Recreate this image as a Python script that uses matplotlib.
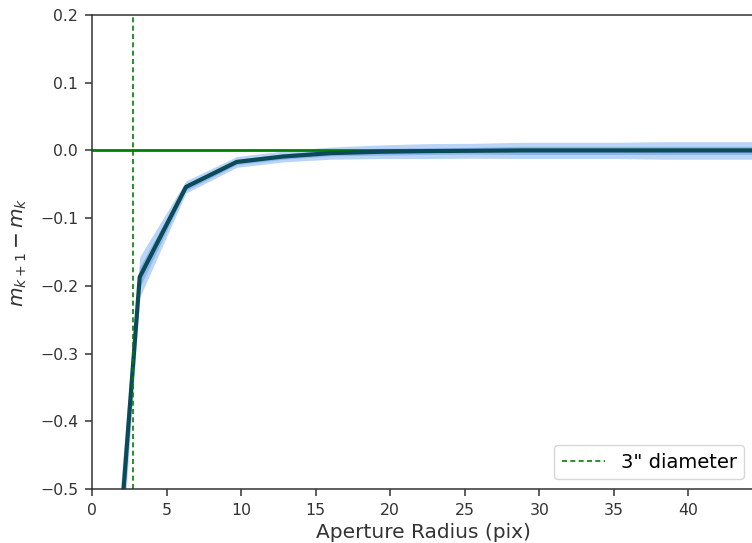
import matplotlib
matplotlib.use("Agg")
import matplotlib.pyplot as plt
import numpy as np

# data
radius = [1.6, 3.2, 6.3, 9.7, 12.8, 16.0, 19.2, 22.4, 25.6, 28.8, 32.0, 35.2, 38.4, 41.6, 44.8]
delta_mag = [-0.65, -0.187, -0.054, -0.017, -0.009, -0.004, -0.002, -0.001, -0.0005, 0.0, 0.0, 0.0, 0.0, 0.0, 0.0]
spread_outer = [0.07, 0.03, 0.009, 0.008, 0.008, 0.009, 0.010, 0.011, 0.011, 0.012, 0.012, 0.012, 0.013, 0.013, 0.013]
spread_inner = [0.035, 0.015, 0.005, 0.004, 0.004, 0.004, 0.005, 0.005, 0.005, 0.006, 0.006, 0.006, 0.006, 0.006, 0.006]
aperture_3arcsec = 2.75
xticks = [0, 5, 10, 15, 20, 25, 30, 35, 40]
yticks = [-0.5, -0.4, -0.3, -0.2, -0.1, 0.0, 0.1, 0.2]

r = np.array(radius)
m = np.array(delta_mag)
so = np.array(spread_outer)
si = np.array(spread_inner)

fig = plt.figure(figsize=(7.52, 5.43), dpi=100)
ax = fig.add_axes([92/752, 1-489/543, (754-92)/752, (489-15)/543])

ax.fill_between(r, m - so, m + so, color='#b3d0f5', alpha=0.9, lw=0)
ax.fill_between(r, m - si, m + si, color='#7aaaea', alpha=0.7, lw=0)
ax.axhline(0.0, color='green', lw=2)
ax.plot(r, m, color='#0b4a57', lw=3)
ax.axvline(aperture_3arcsec, color='green', lw=1.2, ls=(0, (3, 2)), label='3" diameter')

ax.set_xlim(0, 44.4)
ax.set_ylim(-0.5, 0.2)
ax.set_xticks(xticks)
ax.set_yticks(yticks)
ax.set_yticklabels(['\u22120.5', '\u22120.4', '\u22120.3', '\u22120.2', '\u22120.1', '0.0', '0.1', '0.2'])
ax.tick_params(labelsize=11.3, colors='#333333', length=5, pad=5, width=1.1)
for s in ax.spines.values():
    s.set_linewidth(1.1)
    s.set_color('#333333')
ax.spines['right'].set_visible(False)
ax.set_xlabel('Aperture Radius (pix)', fontsize=14.5, color='#333333', labelpad=4)
ax.set_ylabel(r'$m_{k+1} - m_k$', fontsize=14.5, color='#333333', labelpad=8)
ax.legend(loc='lower right', fontsize=14, handlelength=2.2)

fig.savefig('out.png', dpi=100)
